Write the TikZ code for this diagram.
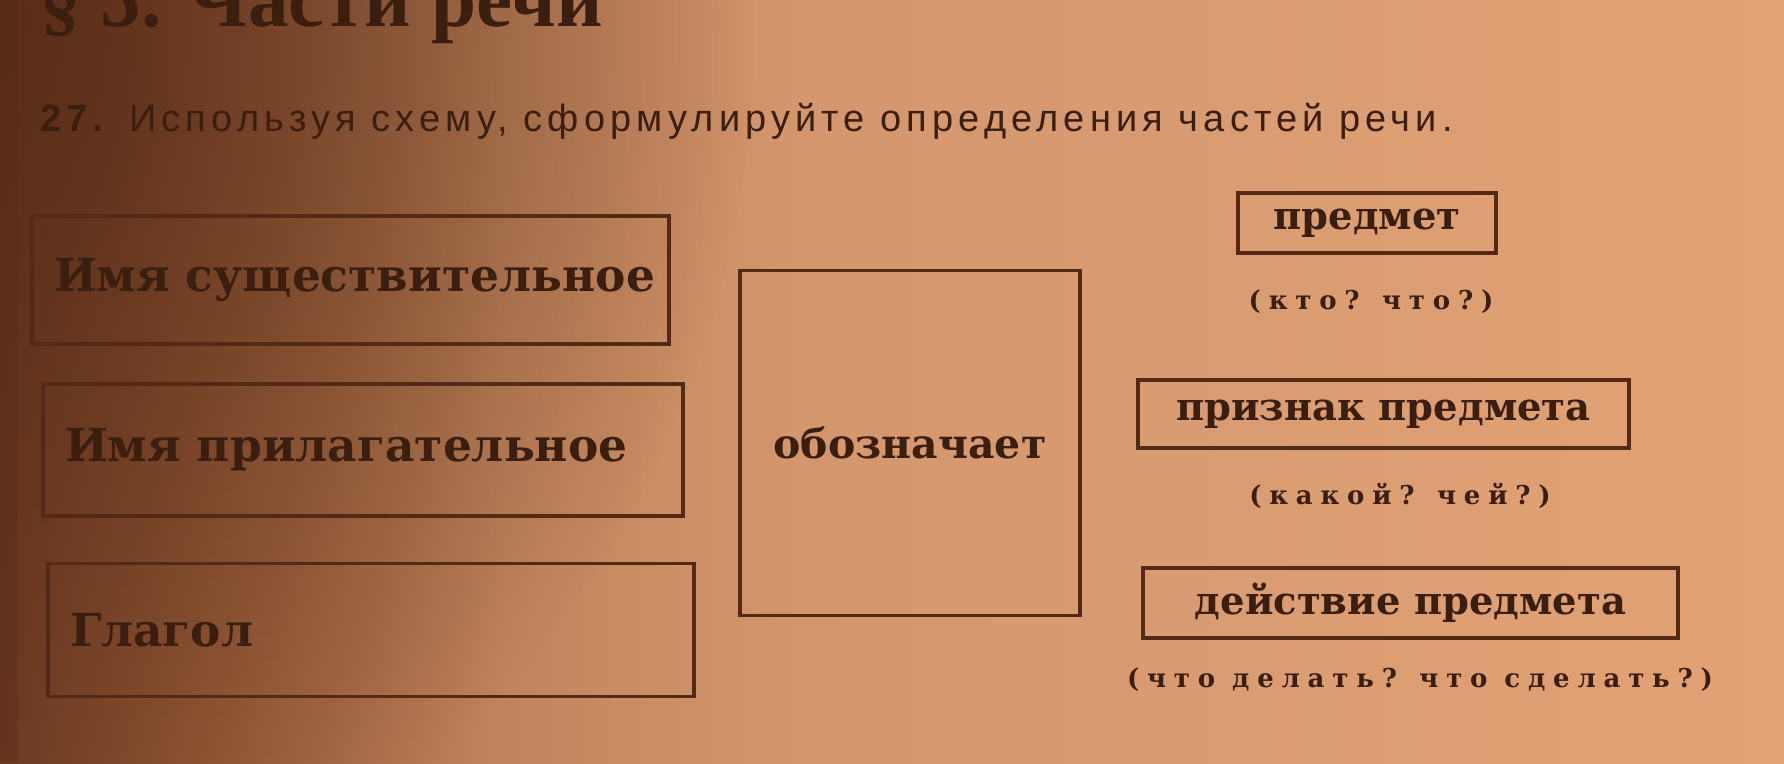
\documentclass[tikz,border=0pt]{standalone}
\usepackage{fontspec}
\usetikzlibrary{fadings}
\setmainfont{DejaVu Serif}
\newfontfamily\taskfnt[LetterSpace=13.5]{Liberation Sans}
\newfontfamily\hintfnt[LetterSpace=30]{DejaVu Serif}
\newfontfamily\titlefnt{Liberation Serif}
\definecolor{ink}{RGB}{58,30,16}
\definecolor{rule}{RGB}{84,42,22}
\definecolor{shadow}{RGB}{84,42,22}
\definecolor{pa}{RGB}{112,60,36}
\definecolor{pb}{RGB}{148,88,54}
\definecolor{pc}{RGB}{192,132,92}
\definecolor{pd}{RGB}{212,150,108}
\definecolor{pe}{RGB}{218,156,114}
\definecolor{pf}{RGB}{226,162,116}
\pgfdeclarehorizontalshading{paper}{100bp}{color(0bp)=(pa); color(25bp)=(pa); color(30.6bp)=(pb); color(39bp)=(pc); color(47.4bp)=(pd); color(60bp)=(pe); color(75bp)=(pf); color(100bp)=(pf)}
\tikzfading[name=tlfade, inner color=transparent!15, outer color=transparent!100]
\begin{document}
\begin{tikzpicture}[x=1pt,y=-1pt,
  lbox/.style={draw=rule, line width=3.5pt, text=ink, font=\bfseries\fontsize{45.5}{54}\selectfont, inner xsep=22pt},
  cbox/.style={draw=rule, line width=3.5pt, text=ink, font=\bfseries\fontsize{41}{48}\selectfont, align=center},
  rbox/.style={draw=rule, line width=3.5pt, text=ink, font=\bfseries\fontsize{38.5}{46}\selectfont, align=center, inner sep=2pt},
  hint/.style={text=ink, font=\hintfnt\bfseries\fontsize{26}{32}\selectfont},
  ]
\useasboundingbox (0,0) rectangle (1784,763);
\shade[shading=paper] (0,0) rectangle (1784,763);
\fill[shadow, path fading=tlfade, fit fading=true] (0,20) ellipse [x radius=760, y radius=900];
\fill[shadow, opacity=0.3] (0,0) rectangle (18,763);
% heading
\node[text=ink, font=\titlefnt\bfseries\fontsize{81}{90}\selectfont, anchor=base west, inner sep=0] (title) at (40,26) {§ 5. Части речи};
\node[text=ink, font=\taskfnt\fontsize{38}{44}\selectfont, anchor=base west, inner sep=0] (task) at (40,131) {\textbf{27.} Используя схему, сформулируйте определения частей речи.};
% left boxes
\node[lbox, minimum width=637, minimum height=128] (noun) at (350.5,280) {\makebox[593pt][l]{Имя существительное}};
\node[lbox, minimum width=640, minimum height=132] (adj) at (363,450) {\makebox[596pt][l]{Имя прилагательное}};
\node[lbox, minimum width=646, minimum height=133] (verb) at (371,630) {\makebox[602pt][l]{Глагол}};
% centre box
\node[cbox, minimum width=340, minimum height=345] (means) at (910,443) {обозначает};
% right boxes
\node[rbox, minimum width=258, minimum height=60] (obj) at (1367,223) {\raisebox{-4pt}{предмет}};
\node[hint] (q1) at (1371,302) {(кто? что?)};
\node[rbox, minimum width=491, minimum height=68] (attr) at (1383.5,414) {\raisebox{-3pt}{признак предмета}};
\node[hint] (q2) at (1400,496) {(какой? чей?)};
\node[rbox, minimum width=535, minimum height=70] (act) at (1410.5,603) {\raisebox{-3pt}{действие предмета}};
\node[hint] (q3) at (1420,680) {(что делать? что сделать?)};
\end{tikzpicture}
\end{document}
